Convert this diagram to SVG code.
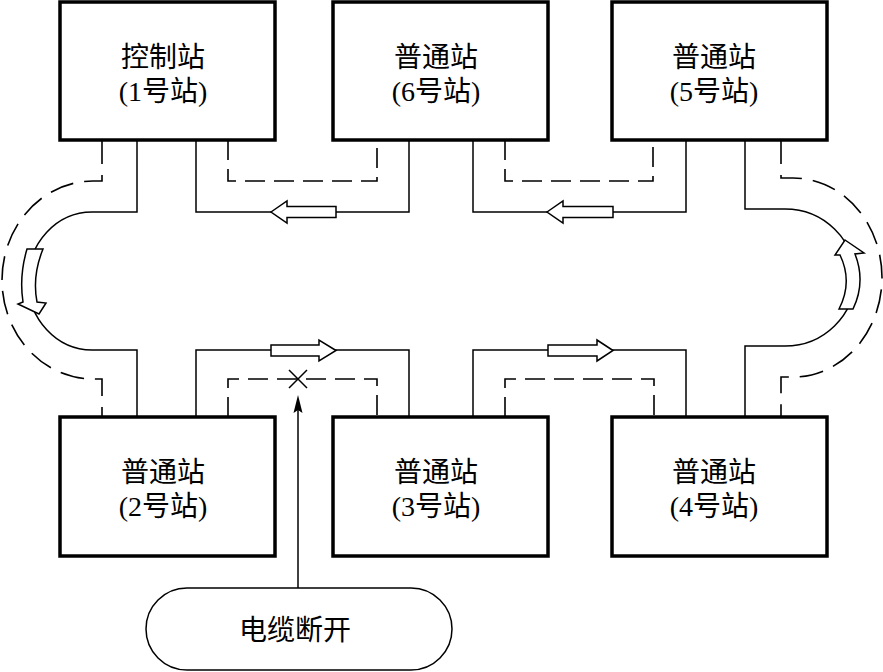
<svg xmlns="http://www.w3.org/2000/svg" width="883" height="672" viewBox="0 0 883 672">
<style>
.box{fill:#fff;stroke:#000;stroke-width:3.5}
.ln{fill:none;stroke:#000;stroke-width:1.5}
.dl{fill:none;stroke:#000;stroke-width:1.6;stroke-dasharray:20 9}
.da{fill:none;stroke:#000;stroke-width:1.6;stroke-dasharray:24 11}
.ha{fill:#fff;stroke:#000;stroke-width:1.5;stroke-linejoin:miter}
.t{font-family:"Liberation Serif","Noto Sans CJK SC",serif;font-size:28px;text-anchor:middle;fill:#000}
</style>
<g id="connectors">
<path class="ln" d="M196,140 V212 H409 V140"/>
<path class="dl" d="M228,140 V181 H377 V140"/>
<path class="ln" d="M473,140 V212 H686 V140"/>
<path class="dl" d="M505,140 V181 H653 V140"/>
<path class="ln" d="M196,417 V350 H409 V417"/>
<path class="dl" d="M228,417 V379 H377 V417"/>
<path class="ln" d="M473,417 V350 H686 V417"/>
<path class="dl" d="M505,417 V379 H654 V417"/>
<path class="ln" d="M137,140 V212 H92 A64,69 0 0 0 92,350 H137 V417"/>
<path class="da" d="M102,140 V181 H93 A91,99 0 0 0 93,379 H102 V417"/>
<path class="ln" d="M745,140 V209 H785 A70,68.5 0 0 1 785,346 H745 V417"/>
<path class="da" d="M781,140 V178 H793 A89,99.5 0 0 1 793,377 H781 V417"/>
<polygon class="ha" points="271,212 287,201 287,206.5 336,206.5 336,217.5 287,217.5 287,223"/>
<polygon class="ha" points="547,212 563,201 563,206.5 613,206.5 613,217.5 563,217.5 563,223"/>
<polygon class="ha" points="336,350.5 319,340 319,345 271,345 271,356 319,356 319,361"/>
<polygon class="ha" points="613,350.5 597,340 597,345 548,345 548,356 597,356 597,361"/>
<path class="ha" d="M27,249 H43 Q32,276 37,302 L46,303 L39,314 L18,304 L23,302 Q19,276 27,249 Z"/>
<path class="ha" d="M845,240 L864,253 L855,254 Q866,282 853,309 L839,309 Q853,282 840,255 L835,255 Z"/>
<path class="ln" d="M289,370 L307,388 M289,388 L307,370"/>
<path class="ln" d="M298,588 V405"/>
<polygon points="298,395 302.5,413 298,410 293.5,413" fill="#000"/>
</g>
<g id="station1">
<rect class="box" x="60" y="2" width="215" height="138"/>
<text class="t" x="163" y="67">控制站</text>
<text class="t" x="163" y="101">(1号站)</text>
</g>
<g id="station6">
<rect class="box" x="333" y="2" width="215" height="138"/>
<text class="t" x="436" y="67">普通站</text>
<text class="t" x="436" y="101">(6号站)</text>
</g>
<g id="station5">
<rect class="box" x="612" y="2" width="215" height="138"/>
<text class="t" x="714" y="67">普通站</text>
<text class="t" x="714" y="101">(5号站)</text>
</g>
<g id="station2">
<rect class="box" x="60" y="417" width="215" height="139"/>
<text class="t" x="163" y="482">普通站</text>
<text class="t" x="163" y="516">(2号站)</text>
</g>
<g id="station3">
<rect class="box" x="333" y="417" width="215" height="139"/>
<text class="t" x="436" y="482">普通站</text>
<text class="t" x="436" y="516">(3号站)</text>
</g>
<g id="station4">
<rect class="box" x="612" y="417" width="215" height="139"/>
<text class="t" x="714" y="482">普通站</text>
<text class="t" x="714" y="516">(4号站)</text>
</g>
<g id="cable-break">
<rect x="146" y="588" width="306" height="82" rx="41" ry="41" fill="#fff" stroke="#000" stroke-width="1.5"/>
<text class="t" x="295" y="640">电缆断开</text>
</g>
</svg>
